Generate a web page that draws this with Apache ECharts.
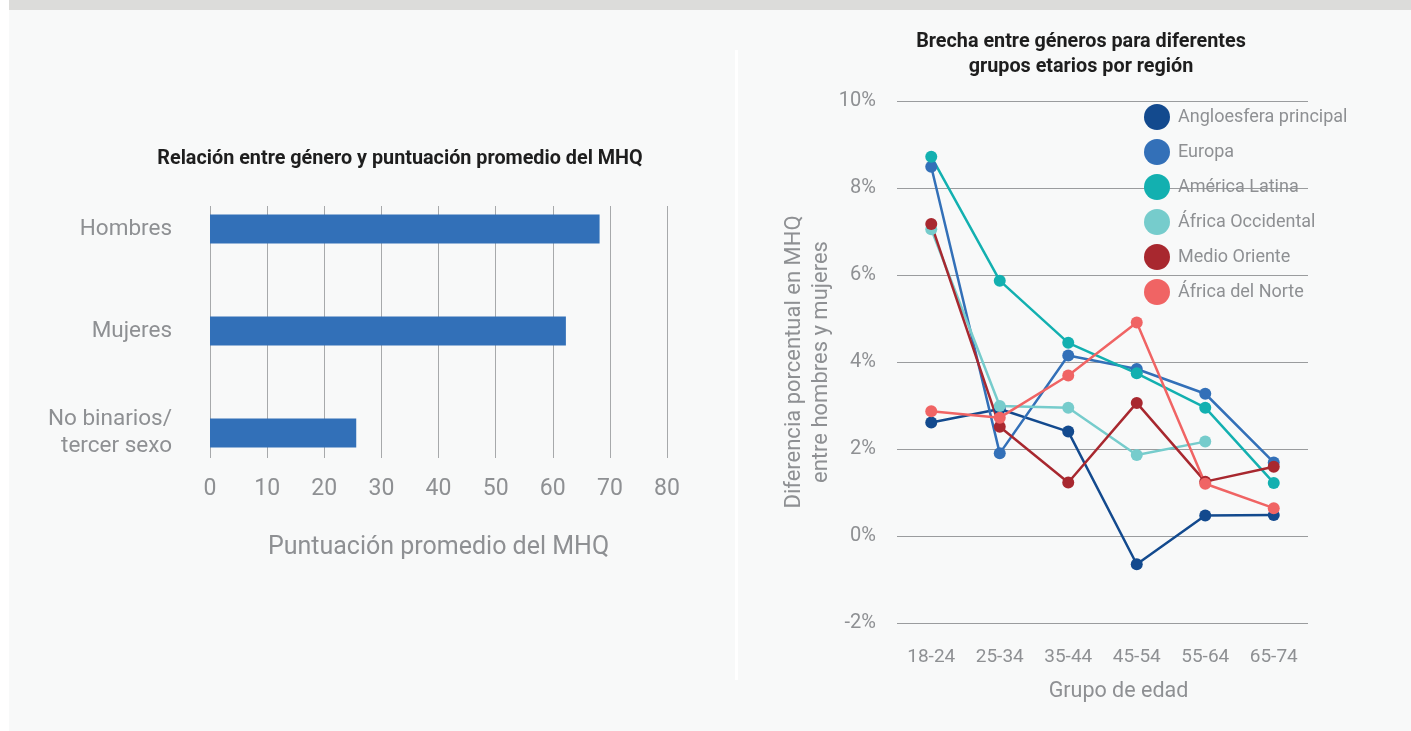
<!DOCTYPE html>
<html lang="es">
<head>
<meta charset="utf-8">
<title>MHQ por género y región</title>
<script src="https://cdn.jsdelivr.net/npm/echarts@6/dist/echarts.min.js"></script>
<style>
  html, body { margin: 0; padding: 0; background: #f8f9f9; }
  #chart { width: 1411px; height: 731px; }
</style>
</head>
<body>
<div id="chart"></div>
<script>
// Puntuación promedio del MHQ por género
const genderCategories = ['Hombres', 'Mujeres', 'No binarios/\ntercer sexo'];
const genderScores = [68.2, 62.3, 25.6];
const scoreTicks = { min: 0, max: 80, interval: 10 };

// Brecha porcentual entre hombres y mujeres por grupo de edad
const ageGroups = ['18-24', '25-34', '35-44', '45-54', '55-64', '65-74'];
const regionNames = ['Angloesfera principal', 'Europa', 'América Latina', 'África Occidental', 'Medio Oriente', 'África del Norte'];
const regionColors = ['#134a8e', '#3370b8', '#13b0b0', '#76cccc', '#a8282f', '#f06464'];
const angloesfera = [2.61, 2.92, 2.40, -0.65, 0.47, 0.48];
const europa = [8.49, 1.90, 4.15, 3.84, 3.27, 1.69];
const americaLatina = [8.72, 5.87, 4.44, 3.74, 2.95, 1.22];
const africaOccidental = [7.05, 2.99, 2.95, 1.86, 2.17, null];
const medioOriente = [7.17, 2.51, 1.23, 3.06, 1.25, 1.59];
const africaNorte = [2.87, 2.72, 3.69, 4.91, 1.20, 0.64];
const gapTicks = { min: -2, max: 10, interval: 2 };

const regionValues = [angloesfera, europa, americaLatina, africaOccidental, medioOriente, africaNorte];

const FONT = 'Roboto, "Noto Sans", sans-serif';
const GRAY = '#8e9093';
const GRID_LINE = '#a7a9ab';

const chart = echarts.init(document.getElementById('chart'), null, { renderer: 'canvas' });

const lineSeries = regionNames.map((name, i) => ({
  name,
  type: 'line',
  xAxisIndex: 2,
  yAxisIndex: 2,
  data: regionValues[i],
  symbol: 'circle',
  symbolSize: 12,
  color: regionColors[i],
  lineStyle: { width: 2.5, color: regionColors[i] },
  itemStyle: { color: regionColors[i] },
  emphasis: { disabled: true },
  animation: false
}));

chart.setOption({
  backgroundColor: '#f8f9f9',
  animation: false,
  textStyle: { fontFamily: FONT },
  graphic: [
    { type: 'rect', shape: { x: 0, y: 0, width: 9, height: 731 }, style: { fill: '#ffffff' }, silent: true },
    { type: 'rect', shape: { x: 9, y: 0, width: 1402, height: 10 }, style: { fill: '#dcdcda' }, silent: true },
    { type: 'rect', shape: { x: 735, y: 50, width: 3, height: 630 }, style: { fill: '#ffffff' }, silent: true }
  ],
  title: [
    {
      text: 'Relación entre género y puntuación promedio del MHQ',
      left: 395, top: 144, textAlign: 'center',
      textStyle: { fontFamily: FONT, fontSize: 19.8, fontWeight: 'bold', color: '#1e1e1e' }
    },
    {
      text: 'Brecha entre géneros para diferentes\ngrupos etarios por región',
      left: 1076, top: 25, textAlign: 'center',
      textStyle: { fontFamily: FONT, fontSize: 19.8, fontWeight: 'bold', color: '#1e1e1e', lineHeight: 25 }
    }
  ],
  legend: {
    orient: 'vertical',
    left: 1139, top: 99,
    icon: 'circle',
    itemWidth: 26, itemHeight: 26, itemGap: 9,
    data: regionNames,
    selectedMode: false,
    textStyle: { fontFamily: FONT, fontSize: 18, color: GRAY, padding: [0, 0, 0, 3] }
  },
  grid: [
    { left: 210, width: 457, top: 178, height: 306 },
    { left: 210, width: 457, top: 206, height: 252 },
    { left: 897, width: 411, top: 101, height: 522 }
  ],
  xAxis: [
    {
      gridIndex: 0, type: 'value', ...scoreTicks,
      show: false
    },
    {
      gridIndex: 1, type: 'value', ...scoreTicks,
      axisLine: { show: false }, axisTick: { show: false },
      splitLine: { show: true, lineStyle: { color: GRID_LINE, width: 1 } },
      axisLabel: { fontFamily: FONT, fontSize: 23, color: GRAY, margin: 20 },
      name: 'Puntuación promedio del MHQ',
      nameLocation: 'middle', nameGap: 77,
      nameTextStyle: { fontFamily: FONT, fontSize: 25, color: GRAY }
    },
    {
      gridIndex: 2, type: 'category', data: ageGroups, boundaryGap: true,
      axisLine: { show: false }, axisTick: { show: false },
      axisLabel: { fontFamily: FONT, fontSize: 19, color: GRAY, margin: 25 },
      name: 'Grupo de edad',
      nameLocation: 'middle', nameGap: 58,
      nameTextStyle: { fontFamily: FONT, fontSize: 21.5, color: GRAY, padding: [0, 0, 0, 32] }
    }
  ],
  yAxis: [
    {
      gridIndex: 0, type: 'category', data: genderCategories, inverse: true,
      axisLine: { show: false }, axisTick: { show: false }, splitLine: { show: false },
      axisLabel: { fontFamily: FONT, fontSize: 22.5, color: GRAY, margin: 38, lineHeight: 27, align: 'right', padding: [0, 0, 4, 0] }
    },
    {
      gridIndex: 1, type: 'category', data: genderCategories, show: false
    },
    {
      gridIndex: 2, type: 'value', ...gapTicks,
      axisLine: { show: false }, axisTick: { show: false },
      splitLine: { show: true, lineStyle: { color: '#9a9c9e', width: 1 } },
      axisLabel: { fontFamily: FONT, fontSize: 20, color: GRAY, margin: 21, formatter: '{value}%' },
      name: 'Diferencia porcentual en MHQ\nentre hombres y mujeres',
      nameLocation: 'middle', nameGap: 62, nameRotate: 90,
      nameTextStyle: { fontFamily: FONT, fontSize: 22, color: GRAY, lineHeight: 27 }
    }
  ],
  series: [
    {
      type: 'bar',
      xAxisIndex: 0, yAxisIndex: 0,
      data: genderScores,
      barWidth: 29,
      itemStyle: { color: '#3270b8' },
      emphasis: { disabled: true },
      z: 3
    },
    ...lineSeries
  ]
});
</script>
</body>
</html>
